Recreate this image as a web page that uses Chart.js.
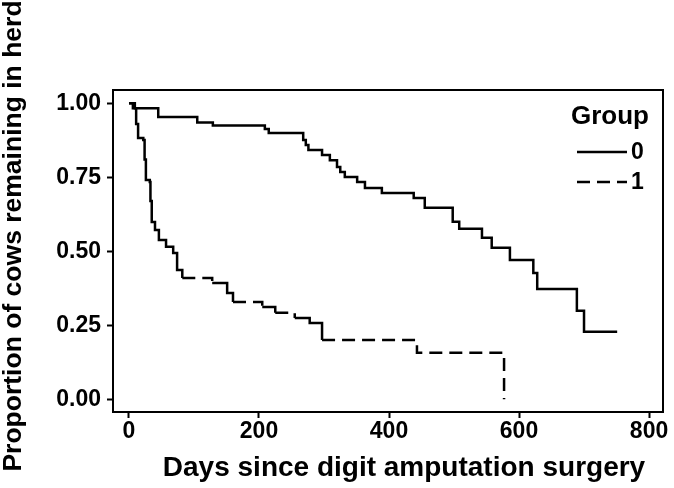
<!DOCTYPE html>
<html>
<head>
<meta charset="utf-8">
<script src="https://cdn.jsdelivr.net/npm/chart.js@4.4.1/dist/chart.umd.min.js"></script>
<style>
  html, body { margin: 0; padding: 0; background: #fff; }
</style>
</head>
<body>
<canvas id="kmChart" width="674" height="488"></canvas>
<script>
// Kaplan-Meier estimates
const groupNames = ['0', '1'];
const days0 = [0, 6, 45, 105, 129, 209, 215, 268, 272, 276, 297, 309, 320, 325, 332, 351, 363, 389, 438, 455, 498, 508, 543, 558, 586, 622, 628, 689, 700, 751];
const surv0 = [1.0, 0.983, 0.954, 0.935, 0.925, 0.913, 0.90, 0.876, 0.859, 0.842, 0.825, 0.808, 0.785, 0.768, 0.751, 0.734, 0.714, 0.697, 0.680, 0.647, 0.600, 0.576, 0.546, 0.512, 0.471, 0.427, 0.373, 0.299, 0.228, 0.228];
const days1 = [0, 9, 11, 14, 22, 24, 26, 32, 33, 35, 40, 46, 57, 68, 74, 82, 128, 151, 160, 205, 225, 255, 278, 297, 443, 577];
const surv1 = [1.0, 0.983, 0.93, 0.883, 0.876, 0.81, 0.741, 0.734, 0.67, 0.599, 0.572, 0.538, 0.515, 0.494, 0.437, 0.410, 0.393, 0.359, 0.329, 0.312, 0.292, 0.275, 0.258, 0.200, 0.157, 0.0];
const xTicks = [0, 200, 400, 600, 800];
const yTicks = [0, 0.25, 0.5, 0.75, 1];
const xTitle = 'Days since digit amputation surgery';
const yTitle = 'Proportion of cows remaining in herd';
const legendTitle = 'Group';

const fontFamily = '"Liberation Sans", Arial, sans-serif';
const dash1 = [13, 7];

const toPoints = (xs, ys) => xs.map((x, i) => ({ x: x, y: ys[i] }));

// box, axis titles and the legend are drawn by hand
const framePlugin = {
    id: 'frame',
    afterDatasetsDraw(chart) {
        const { ctx, chartArea: a } = chart;
        ctx.save();
        ctx.strokeStyle = '#000';
        ctx.lineWidth = 2;
        ctx.strokeRect(a.left, a.top, a.right - a.left, a.bottom - a.top);

        ctx.fillStyle = '#000';
        ctx.textBaseline = 'middle';
        ctx.textAlign = 'center';
        ctx.font = 'bold 28px ' + fontFamily;
        ctx.fillText(xTitle, 404, 468);

        ctx.save();
        ctx.translate(14, 236);
        ctx.rotate(-Math.PI / 2);
        ctx.font = 'bold 26.5px ' + fontFamily;
        ctx.fillText(yTitle, 0, 0);
        ctx.restore();

        // legend
        ctx.textAlign = 'right';
        ctx.font = 'bold 26px ' + fontFamily;
        ctx.fillText(legendTitle, 649, 117);
        ctx.font = 'bold 23px ' + fontFamily;
        chart.data.datasets.forEach((ds, i) => {
            const y = 152 + i * 30;
            ctx.beginPath();
            ctx.setLineDash(ds.legendDash);
            ctx.lineWidth = ds.borderWidth;
            ctx.moveTo(577, y);
            ctx.lineTo(627, y);
            ctx.stroke();
            ctx.setLineDash([]);
            ctx.textAlign = 'left';
            ctx.fillText(ds.label, 631, y + 1);
        });
        ctx.restore();
    }
};

const config = {
    type: 'line',
    data: {
        datasets: [{
            label: groupNames[0],
            data: toPoints(days0, surv0),
            borderColor: '#000',
            borderWidth: 2.5,
            legendDash: [],
            stepped: 'before',
            pointRadius: 0,
            fill: false
        }, {
            label: groupNames[1],
            data: toPoints(days1, surv1),
            borderColor: '#000',
            borderWidth: 2.5,
            legendDash: dash1,
            // the short steep steps look solid, long runs are dashed
            segment: {
                borderDash: c => (c.p1.parsed.x - c.p0.parsed.x > 25 ? dash1 : [])
            },
            stepped: 'before',
            pointRadius: 0,
            fill: false
        }]
    },
    options: {
        responsive: false,
        animation: false,
        devicePixelRatio: 1,
        layout: { padding: { top: 90, right: 11, left: 0, bottom: 0 } },
        plugins: {
            legend: { display: false },
            tooltip: { enabled: false }
        },
        scales: {
            x: {
                type: 'linear',
                min: -24.6,
                max: 821.5,
                afterBuildTicks: s => { s.ticks = xTicks.map(v => ({ value: v })); },
                afterFit: s => { s.height = 76; },
                grid: { drawOnChartArea: false, tickLength: 6, tickWidth: 2, color: '#000' },
                border: { display: false },
                ticks: {
                    color: '#000',
                    padding: 2,
                    maxRotation: 0,
                    font: { family: fontFamily, size: 23, weight: 'bold', lineHeight: 1 }
                }
            },
            y: {
                type: 'linear',
                min: -0.043,
                max: 1.045,
                afterBuildTicks: s => { s.ticks = yTicks.map(v => ({ value: v })); },
                afterFit: s => { s.width = 113; },
                grid: { drawOnChartArea: false, tickLength: 6, tickWidth: 2, color: '#000' },
                border: { display: false },
                ticks: {
                    color: '#000',
                    padding: 6,
                    font: { family: fontFamily, size: 23, weight: 'bold', lineHeight: 1 },
                    callback: v => v.toFixed(2)
                }
            }
        }
    },
    plugins: [framePlugin]
};

window.onload = () => {
    const ctx = document.getElementById('kmChart').getContext('2d');
    new Chart(ctx, config);
};
</script>
</body>
</html>
